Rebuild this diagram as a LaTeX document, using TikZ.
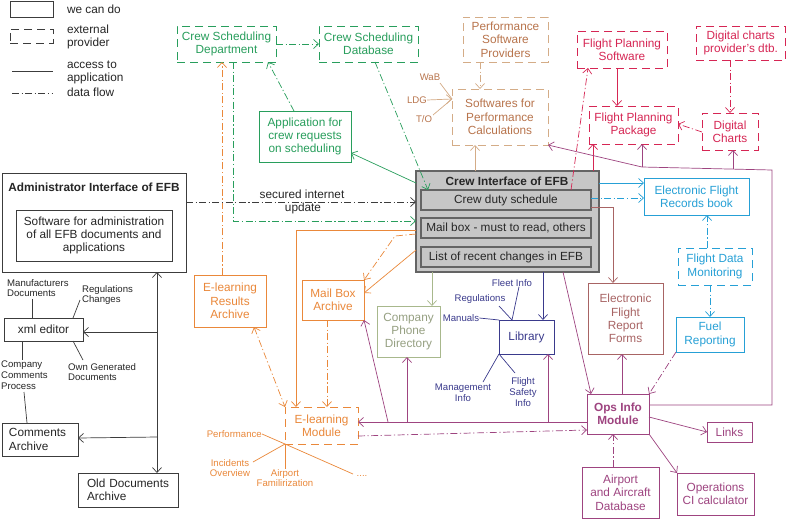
\documentclass[tikz,border=0pt]{standalone}
\usepackage{fontspec}
\setmainfont{Liberation Sans}
\usetikzlibrary{arrows.meta}
\definecolor{cgreen}{RGB}{40,158,92}
\definecolor{corange}{RGB}{234,136,58}
\definecolor{ctanb}{RGB}{212,172,135}
\definecolor{ctant}{RGB}{184,116,76}
\definecolor{cred}{RGB}{214,38,84}
\definecolor{cblue}{RGB}{38,160,214}
\definecolor{cpurple}{RGB}{158,68,128}
\definecolor{cnavy}{RGB}{58,58,140}
\definecolor{colive}{RGB}{168,184,140}
\definecolor{colivet}{RGB}{150,160,130}
\definecolor{cmauve}{RGB}{168,100,100}
\definecolor{cblack}{RGB}{60,60,60}
\definecolor{cgrayfill}{RGB}{198,198,198}
\definecolor{cgrayline}{RGB}{100,100,100}
\newcommand\mainfs{\fontsize{11.8}{13.3}\selectfont}
\newcommand\smallfs{\fontsize{9.6}{10.8}\selectfont}
\newcommand\mybox[7]{\node[#6, minimum width={(#4-#2)*1pt}, minimum height={(#5-#3)*1pt}] (#1) at ({(#2+#4)/2},{(#3+#5)/2}) {#7};}
\tikzset{
 base/.style={line width=0.8pt, inner sep=1pt, outer sep=0pt, align=center, font=\mainfs},
 sbox/.style={base, draw},
 dbox/.style={base, draw, dash pattern=on 8pt off 5pt},
 acc/.style={line width=0.7pt, -{Straight Barb[length=5pt,width=9pt]}},
 flow/.style={acc, dash pattern=on 7pt off 2.5pt on 1.2pt off 2.5pt},
 flowtwo/.style={flow, {Straight Barb[length=5pt,width=9pt]}-{Straight Barb[length=5pt,width=9pt]}},
 plain/.style={line width=0.7pt},
 lab/.style={inner sep=0pt, font=\smallfs, align=center},
 gr/.style={draw=cgreen, text=cgreen},
 tn/.style={draw=ctanb, text=ctant},
 rd/.style={draw=cred, text=cred},
 bl/.style={draw=cblue, text=cblue},
 pu/.style={draw=cpurple, text=cpurple},
 nv/.style={draw=cnavy, text=cnavy},
 ol/.style={draw=colive, text=colivet},
 or/.style={draw=corange, text=corange},
 mv/.style={draw=cmauve, text=cmauve},
 bk/.style={draw=cblack, text=black!85},
 gy/.style={draw=cgrayline, fill=cgrayfill, line width=1.2pt, text=black!85},
}
\begin{document}
\begin{tikzpicture}[x=1pt,y=-1pt]
\fill[white] (0,0) rectangle (787,520);
\useasboundingbox (0,0) rectangle (787,520);

% legend
\mybox{lgs}{10}{1}{53}{17}{sbox,bk}{}
\node[base, anchor=west, text=black!85] (lgst) at (66,9) {we can do};
\mybox{lgd}{10}{29}{53}{43}{dbox,bk}{}
\node[base, anchor=west, align=left, text=black!85] (lgdt) at (66,37) {external\\provider};
\coordinate (lga1) at (12,71); \coordinate (lga2) at (53,71);
\draw[plain, cblack] (lga1) -- (lga2);
\node[base, anchor=west, align=left, text=black!85] (lgat) at (66,72.5) {access to\\application};
\coordinate (lgf1) at (12,93); \coordinate (lgf2) at (53,93);
\draw[plain, cblack, dash pattern=on 7pt off 2.5pt on 1.2pt off 2.5pt] (lgf1) -- (lgf2);
\node[base, anchor=west, text=black!85] (lgft) at (66,92) {data flow};

% green
\mybox{csd}{177}{26}{276}{62}{dbox,gr}{Crew Scheduling\\Department}
\mybox{csdb}{319}{26}{418}{62}{dbox,gr}{Crew Scheduling\\Database}
\mybox{app}{259}{111}{351}{162}{sbox,gr}{Application for\\crew requests\\on scheduling}

% tan
\mybox{psp}{463}{17}{548}{62}{dbox,tn}{Performance\\Software\\Providers}
\mybox{spc}{452}{89}{548}{145}{dbox,tn}{Softwares for\\Performance\\Calculations}

% red
\mybox{fps}{577}{31}{667}{68}{dbox,rd}{Flight Planning\\Software}
\mybox{dcp}{696}{26}{785.5}{60}{dbox,rd}{Digital charts\\provider's dtb.}
\mybox{fpp}{589}{106}{678}{144}{dbox,rd}{Flight Planning\\Package}
\mybox{dch}{702}{113}{758}{150}{dbox,rd}{Digital\\Charts}

% admin
\mybox{adm}{2}{173}{186}{272}{sbox,bk}{}
\node[base, font=\mainfs\bfseries, text=black!85] (admt) at (94,187) {Administrator Interface of EFB};
\mybox{admi}{16}{210}{172}{261}{sbox,bk}{Software for administration\\of all EFB documents and\\applications}

% crew interface
\mybox{crew}{416}{171}{599}{272}{base,gy}{}
\node[base, font=\mainfs\bfseries, text=black!85] (crewt) at (507,181) {Crew Interface of EFB};
\mybox{cds}{421}{190}{591}{210}{base,gy}{Crew duty schedule}
\mybox{mbx}{421}{218}{591}{238}{base,gy}{Mail box - must to read, others}
\mybox{lrc}{421}{247}{591}{267}{base,gy}{List of recent changes in EFB}

% blue
\mybox{efrb}{644}{178}{749}{215}{sbox,bl}{Electronic Flight\\Records book}
\mybox{fdm}{678}{248}{752}{285}{dbox,bl}{Flight Data\\Monitoring}
\mybox{fuel}{676}{317}{744}{352}{sbox,bl}{Fuel\\Reporting}

% mauve
\mybox{efrf}{588}{283}{663}{354}{sbox,mv}{Electronic\\Flight\\Report\\Forms}

% left side
\mybox{xml}{4}{318}{83}{341}{sbox,bk}{xml editor}
\mybox{cma}{2}{423}{78}{456}{sbox,bk,align=left,text width=62pt}{Comments\\Archive}
\mybox{oda}{78}{473}{178}{507}{sbox,bk,align=left,text width=82pt}{Old Documents\\Archive}

% orange and others
\mybox{elra}{194}{275}{266}{327}{sbox,or}{E-learning\\Results\\Archive}
\mybox{mba}{302}{280}{364}{320}{sbox,or}{Mail Box\\Archive}
\mybox{cpd}{377}{306}{440}{357}{sbox,ol}{Company\\Phone\\Directory}
\mybox{lib}{499}{320}{554}{354}{sbox,nv}{Library}
\mybox{elm}{285}{407}{358}{444}{dbox,or}{E-learning\\Module}

% purple
\mybox{ops}{587}{394}{649}{434}{sbox,pu,line width=1pt,font=\mainfs\bfseries}{Ops Info\\Module}
\mybox{links}{707}{422}{752}{442}{sbox,pu}{Links}
\mybox{occ}{677}{473}{754}{515}{sbox,pu}{Operations\\CI calculator}
\mybox{aad}{582}{467}{659}{518}{sbox,pu}{Airport\\and Aircraft\\Database}

% ---------- connectors ----------
% green
\draw[flow, cgreen] (csd.east) -- (csdb.west);
\draw[flow, cgreen] (app.north -| 294,0) -- (csd.south -| 268,0);
\draw[acc, cgreen] (crew.west |- 0,183) -- (app.east |- 0,153);
\draw[flow, cgreen] (csdb.south -| 375,0) -- (cds.north -| 428,0);
\draw[flow, cgreen] (csd.south -| 233,0) |- (crew.west |- 0,221);

% orange
\draw[flow, corange] (elra.north -| 222,0) -- (csd.south -| 222,0);
\draw[flowtwo, corange] (elra.south -| 254,0) -- (elm.north west);
\draw[acc, corange] (crew.west |- 0,230) -| (elm.north -| 296,0);
\draw[acc, corange] (crew.west |- 0,250) -- (mba.east |- 0,293);
\coordinate (mbbend) at (395,236);
\draw[flow, corange] (crew.west |- 0,234) -- (mbbend) -- (mba.north east);
\draw[flow, corange] (mba.south -| 327,0) -- (elm.north -| 327,0);

% e-learning labels
\node[lab, anchor=east, text=corange] (lperf) at (262,434) {Performance};
\node[lab, text=corange] (linc) at (230,468) {Incidents\\Overview};
\node[lab, text=corange] (lair) at (285,478) {Airport\\Familirization};
\node[lab, text=corange] (ldots) at (362,476) {....};
\draw[plain, corange] (lperf.east) -- (elm.south west);
\draw[plain, corange] (253,462) -- (elm.south west);
\draw[plain, corange] (lair.north -| elm.south west) -- (elm.south west);
\draw[plain, corange] (353,474) -- (elm.south west);

% tan
\draw[flow, ctanb] (psp.south -| 480,0) -- (spc.north -| 480,0);
\draw[acc, ctanb] (crew.north -| 475,0) -- (spc.south -| 475,0);
\node[lab, text=ctant] (lwab) at (430,77) {WaB};
\node[lab, text=ctant] (lldg) at (417,100) {LDG};
\node[lab, text=ctant] (lto) at (424,119) {T/O};
\draw[plain, ctanb] (440,83) -- (spc.west |- 0,99);
\draw[acc, ctanb] (lldg.east) -- (spc.west |- 0,99);
\draw[plain, ctanb] (433,115) -- (spc.west |- 0,99);

% red
\draw[acc, cred] (fps.south -| 617,0) -- (fpp.north -| 617,0);
\draw[flow, cred] (dcp.south -| 730,0) -- (dch.north -| 730,0);
\draw[flow, cred] (dch.west |- 0,132) -- (fpp.east |- 0,124);
\draw[flow, cred] (cds.north -| 571,0) -- (fps.south -| 588,0);
\draw[acc, cred] (crew.north -| 593,0) -- (fpp.south -| 593,0);

% blue
\draw[acc, cblue] (crew.east |- 0,183) -- (efrb.west |- 0,183);
\draw[flow, cblue] (cds.east |- 0,198) -- (efrb.west |- 0,198);
\draw[flow, cblue] (fdm.north -| 707,0) -- (efrb.south -| 707,0);
\draw[flow, cblue] (fdm.south -| 710,0) -- (fuel.north -| 710,0);

% mauve
\draw[acc, cmauve] (cds.east |- 0,207) -| (efrf.north -| 613,0);

% olive / navy
\draw[acc, colive] (crew.south -| 432,0) -- (cpd.north -| 432,0);
\draw[acc, cnavy] (crew.south -| 543,0) -- (lib.north -| 543,0);
\node[lab, text=cnavy] (lfleet) at (512,283) {Fleet Info};
\node[lab, text=cnavy] (lreg) at (480,299) {Regulations};
\node[lab, text=cnavy] (lman) at (461,318) {Manuals};
\node[lab, text=cnavy] (lmgmt) at (463,393) {Management\\Info};
\node[lab, text=cnavy] (lfsi) at (523,392) {Flight\\Safety\\Info};
\draw[plain, cnavy] ([xshift=7pt]lfleet.south) -- (lib.north -| 512,0);
\draw[plain, cnavy] (499,306) -- (lib.north -| 512,0);
\draw[plain, cnavy] (lman.east) -- (lib.north west);
\draw[plain, cnavy] (lib.south west) -- (483,382);
\draw[plain, cnavy] (lib.south west) -- (515,373);

% purple
\draw[acc, cpurple] (ops.west |- 0,422) -- (elm.east |- 0,422);
\coordinate (pj1) at (388,422); \coordinate (pj2) at (407,422); \coordinate (pj3) at (548,422);
\draw[acc, cpurple] (pj1) -- (mba.south east);
\draw[acc, cpurple] (pj2) -- (cpd.south -| 407,0);
\draw[acc, cpurple] (pj3) -- (lib.south -| 548,0);
\draw[flow, cpurple] (elm.east |- 0,436) -- (ops.west |- 0,430);
\draw[acc, cpurple] (ops.east |- 0,417) -- (links.west);
\draw[acc, cpurple] (ops.south east) -- (occ.north west);
\draw[flow, cpurple] (aad.north -| 613,0) -- (ops.south -| 613,0);
\draw[acc, cpurple] (ops.north -| 622,0) -- (efrf.south -| 622,0);
\draw[acc, cpurple] (crew.south -| 563,0) -- (ops.north -| 591,0);
\draw[flow, cpurple] (fuel.south west) -- (ops.north east);
\coordinate (pb1) at (772,405); \coordinate (pb2) at (772,170); \coordinate (pb3) at (642,167); \coordinate (pb4) at (733,169);
\draw[acc, cpurple] (ops.east |- 0,405) -- (pb1) -- (pb2) -- (pb3) -- (spc.south east);
\draw[acc, cpurple] (pb3) -- (fpp.south -| 642,0);
\draw[acc, cpurple] (pb4) -- (dch.south -| 733,0);

% black
\draw[flow, cblack] (adm.east |- 0,202) -- (crew.west |- 0,202);
\node[base, text=black!85] (lsec) at (302,194) {secured internet};
\node[base, text=black!85] (lupd) at (303,208) {update};
\draw[acc, cblack, {Straight Barb[length=5pt,width=9pt]}-{Straight Barb[length=5pt,width=9pt]}] (oda.north -| 157,0) -- (adm.south -| 157,0);
\coordinate (bj1) at (157,332); \coordinate (bj2) at (157,437);
\draw[acc, cblack] (bj1) -- (xml.east |- 0,332);
\draw[acc, cblack] (bj2) -- (cma.east |- 0,438);

% xml labels
\node[lab, anchor=west, align=left, text=black!85] (lmanu) at (7,288) {Manufacturers\\Documents};
\node[lab, anchor=west, align=left, text=black!85] (lregc) at (82,295) {Regulations\\Changes};
\node[lab, anchor=west, align=left, text=black!85] (lown) at (68,372) {Own Generated\\Documents};
\node[lab, anchor=west, align=left, text=black!85] (lcomp) at (1,375) {Company\\Comments\\Process};
\draw[plain, cblack] (32,299) -- (xml.north -| 32,0);
\draw[plain, cblack] (80,300) -- (xml.north -| 73,0);
\draw[plain, cblack] (xml.south -| 73,0) -- (83,360);
\draw[plain, cblack] (xml.south -| 22,0) -- (22,360);
\draw[plain, cblack] (24,392) -- (cma.north -| 27,0);
\end{tikzpicture}
\end{document}
